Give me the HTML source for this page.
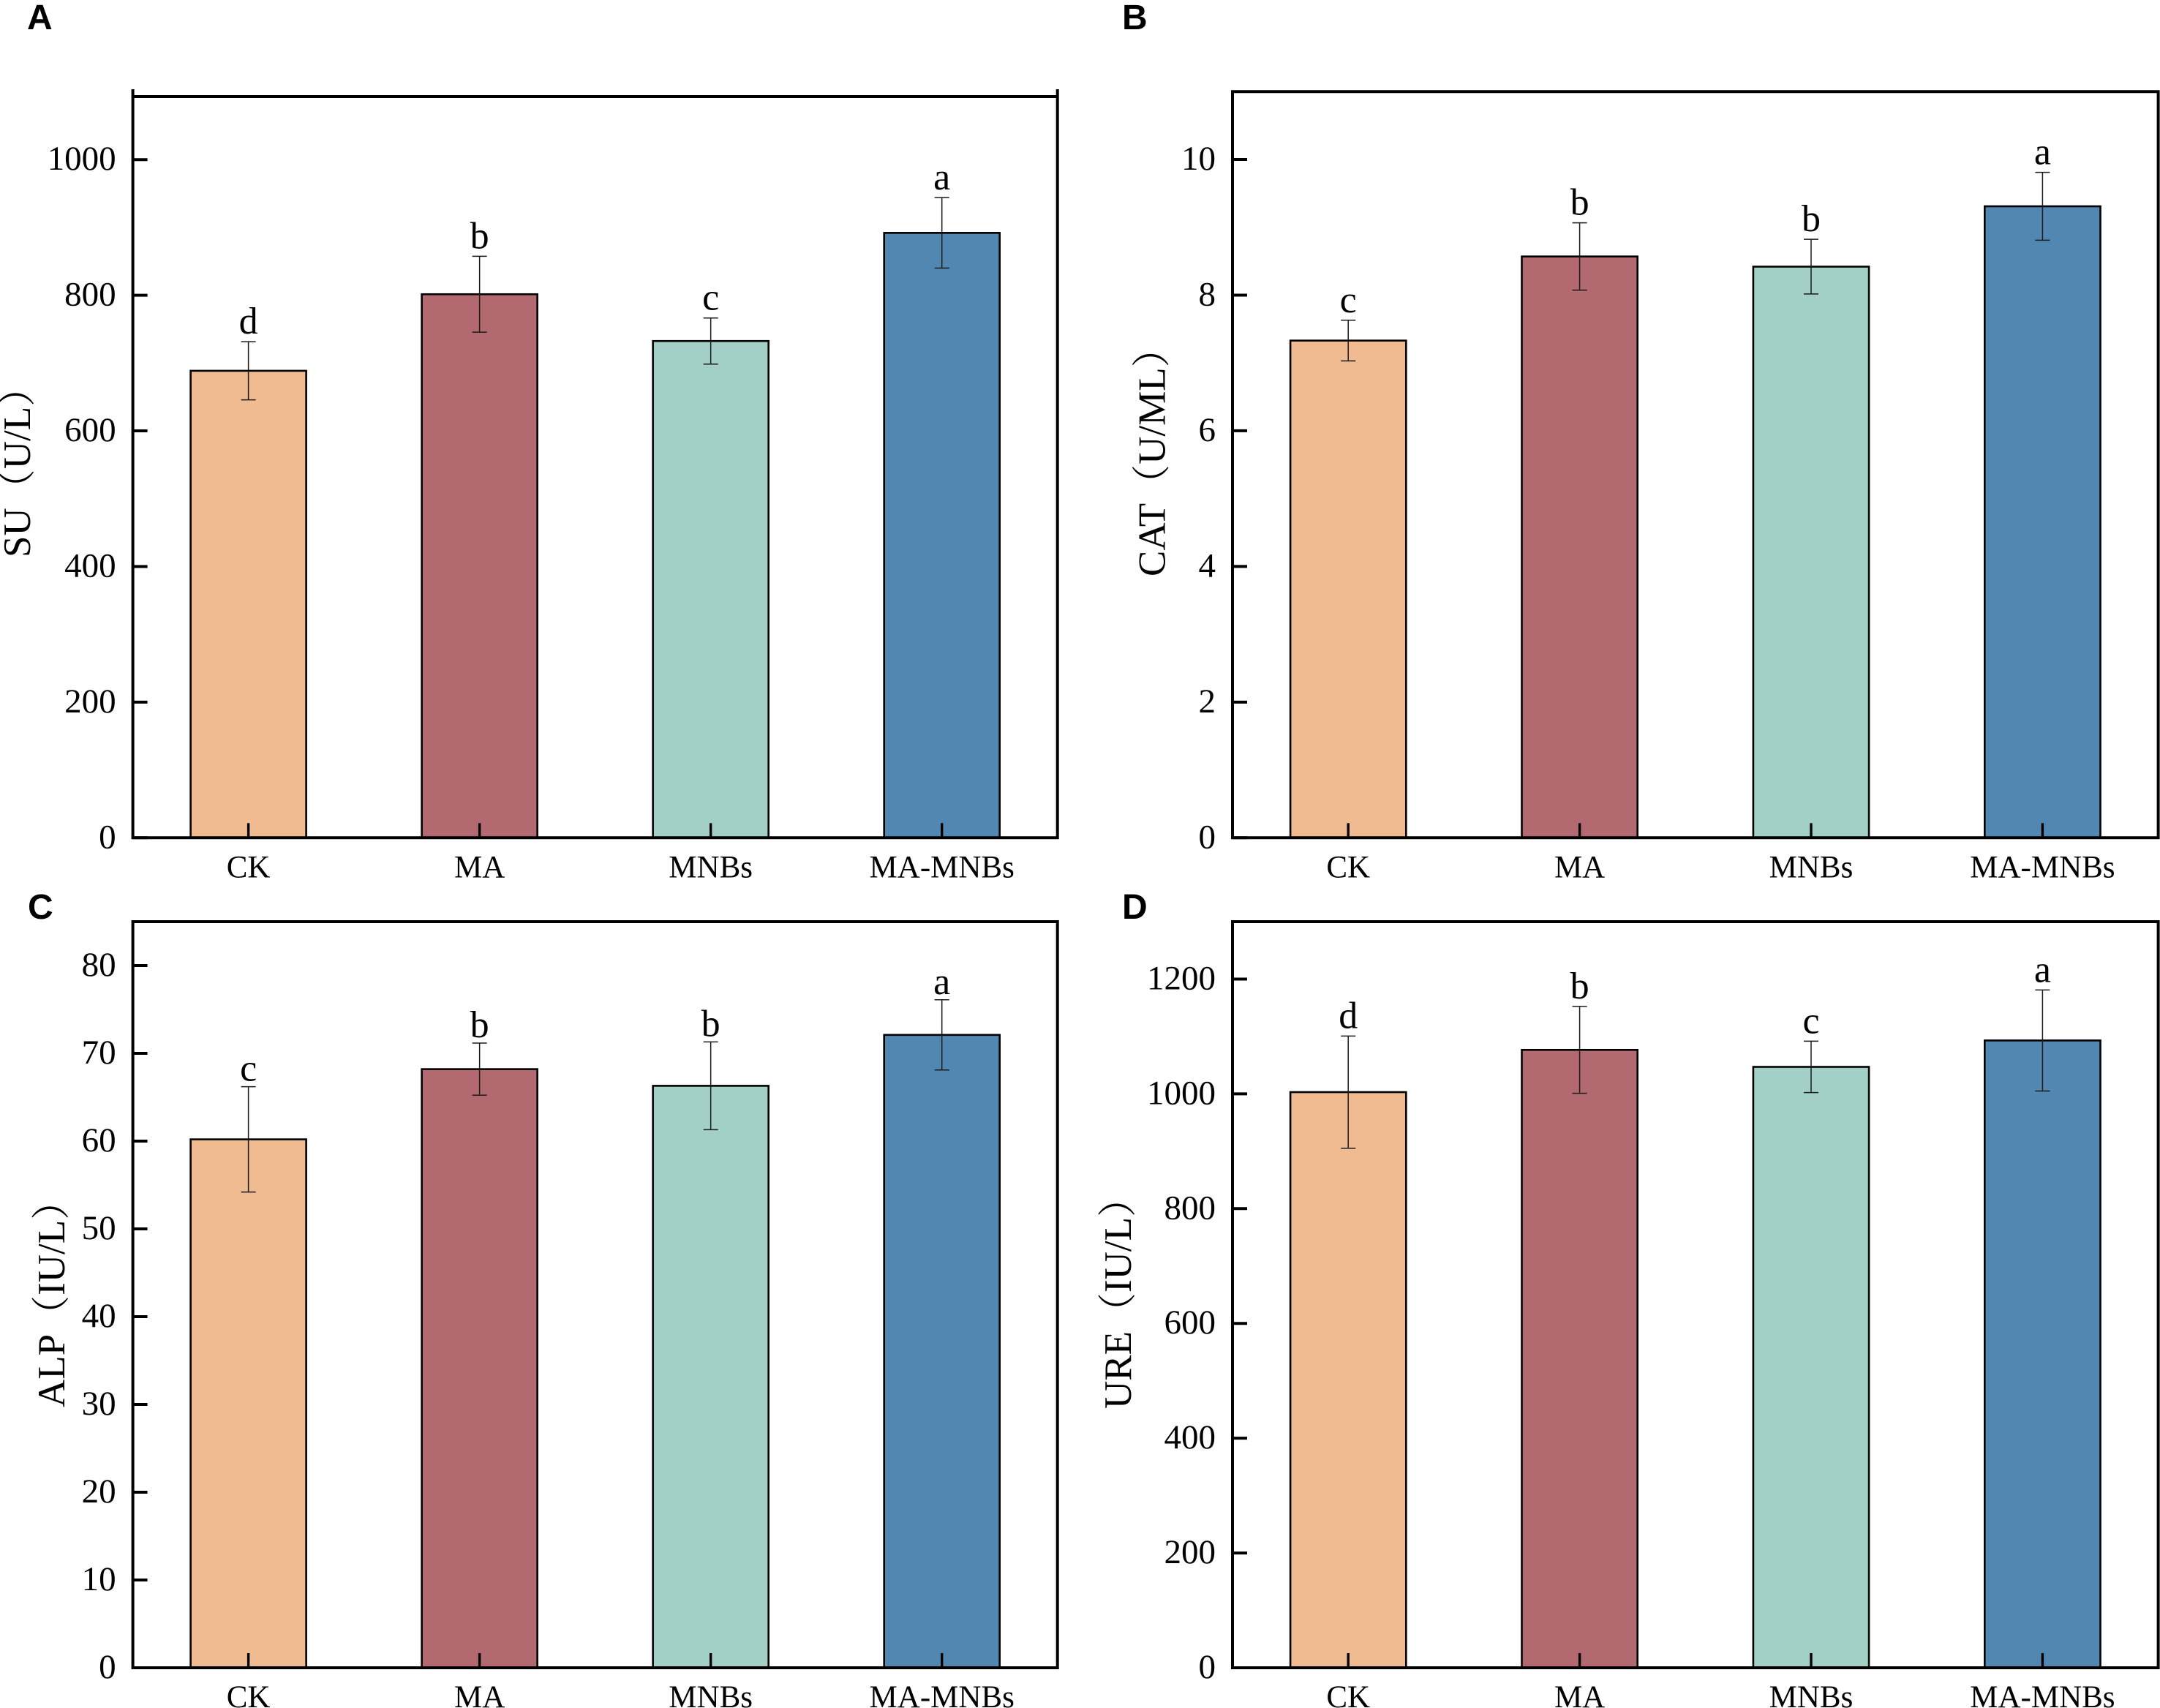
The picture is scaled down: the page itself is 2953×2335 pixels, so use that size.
<!DOCTYPE html>
<html>
<head>
<meta charset="utf-8">
<title>Enzyme activity bar charts</title>
<style>
html,body{margin:0;padding:0;background:#fff;}
svg{display:block;}
text{font-family:"Liberation Serif","Noto Serif CJK SC",serif;fill:#000;}
.panel-letter{font-family:"Liberation Sans",sans-serif;font-weight:bold;font-size:48px;}
</style>
</head>
<body>
<svg id="figure" xmlns="http://www.w3.org/2000/svg" width="2953" height="2335" viewBox="0 0 2953 2335">
  <text class="panel-letter" x="37" y="40">A</text>
  <text class="panel-letter" x="1534" y="40">B</text>
  <text class="panel-letter" x="38" y="1256">C</text>
  <text class="panel-letter" x="1534" y="1256">D</text>
</svg>
<script>
const categories = ['CK', 'MA', 'MNBs', 'MA-MNBs'];
const barColors = ['#F0BB90', '#B2696F', '#A2D0C7', '#5187B1'];

const suValues = [688.6, 801.5, 732.5, 892];
const suErrors = [42.9, 56, 34, 52];
const suLetters = ['d', 'b', 'c', 'a'];
const suTicks = [0, 200, 400, 600, 800, 1000];

const catValues = [7.33, 8.57, 8.42, 9.31];
const catErrors = [0.30, 0.496, 0.403, 0.50];
const catLetters = ['c', 'b', 'b', 'a'];
const catTicks = [0, 2, 4, 6, 8, 10];

const alpValues = [60.2, 68.2, 66.3, 72.1];
const alpErrors = [6, 2.97, 5, 4];
const alpLetters = ['c', 'b', 'b', 'a'];
const alpTicks = [0, 10, 20, 30, 40, 50, 60, 70, 80];

const ureValues = [1003, 1076.6, 1047, 1093];
const ureErrors = [97.7, 75.7, 44.8, 88];
const ureLetters = ['d', 'b', 'c', 'a'];
const ureTicks = [0, 200, 400, 600, 800, 1000, 1200];

const SVG_NS = 'http://www.w3.org/2000/svg';
const figure = document.getElementById('figure');

function make(tag, attrs, parent) {
  const el = document.createElementNS(SVG_NS, tag);
  for (const k in attrs) el.setAttribute(k, attrs[k]);
  parent.appendChild(el);
  return el;
}

function drawPanel(cfg) {
  const { left, right, top, zero, yMax, extend, titleX, titleY, letterGap } = cfg;
  const yScale = v => zero - (v / yMax) * (zero - top);
  const band = (right - left) / categories.length;
  const xScale = i => left + band * (i + 0.5);
  const barW = band * 0.5;

  const g = make('g', {}, figure);
  
  

  categories.forEach((cat, i) => {
    const yTop = yScale(cfg.values[i]);
    const bar = make('rect', {
      x: xScale(i) - barW / 2, y: yTop, width: barW, height: zero - yTop,
      fill: barColors[i], stroke: '#000', 'stroke-width': 2.6
    }, g);
    
    
  });

  categories.forEach((cat, i) => {
    const x = xScale(i);
    const hi = yScale(cfg.values[i] + cfg.errors[i]);
    const lo = yScale(cfg.values[i] - cfg.errors[i]);
    const eb = make('path', {
      d: 'M' + (x - 10) + ' ' + hi + 'H' + (x + 10) + 'M' + x + ' ' + hi + 'V' + lo + 'M' + (x - 10) + ' ' + lo + 'H' + (x + 10),
      fill: 'none', stroke: '#1a1a1a', 'stroke-width': 1.5
    }, g);
    
    

    const sig = make('text', { x: x, y: hi - letterGap, 'text-anchor': 'middle', 'font-size': 52 }, g);
    sig.textContent = cfg.letters[i];
    
    

    const tick = make('line', { x1: x, x2: x, y1: zero, y2: zero - 20, stroke: '#000', 'stroke-width': 3.4 }, g);
    
    

    const lab = make('text', { x: x, y: zero + 54, 'text-anchor': 'middle', 'font-size': 43 }, g);
    lab.textContent = cat;
    
    
  });

  cfg.ticks.forEach(t => {
    const y = yScale(t);
    const tick = make('line', { x1: left, x2: left + 20, y1: y, y2: y, stroke: '#000', 'stroke-width': 4 }, g);
    
    

    const lab = make('text', { x: left - 23, y: y + 14, 'text-anchor': 'end', 'font-size': 47 }, g);
    lab.textContent = String(t);
    
    
  });

  const frame = make('path', {
    d: 'M' + left + ' ' + (top - extend) + 'V' + zero + 'H' + right + 'V' + (top - extend) + 'M' + left + ' ' + top + 'H' + right,
    fill: 'none', stroke: '#000', 'stroke-width': 4, 'stroke-linecap': 'square'
  }, g);
  
  

  const title = make('text', {
    transform: 'translate(' + titleX + ' ' + titleY + ') rotate(-90)',
    x: 0, y: 0, 'font-size': 53
  }, g);
  title.textContent = cfg.title;
  
  
}

drawPanel({ name: 'su', title: 'SU（U/L）', values: suValues, errors: suErrors, letters: suLetters, ticks: suTicks,
  left: 181.6, right: 1445.7, top: 132, zero: 1145.3, yMax: 1093, extend: 8, titleX: 41, titleY: 762, letterGap: 11 });
drawPanel({ name: 'cat', title: 'CAT（U/ML）', values: catValues, errors: catErrors, letters: catLetters, ticks: catTicks,
  left: 1685, right: 2950.6, top: 125.3, zero: 1145.3, yMax: 11, extend: 0, titleX: 1592.7, titleY: 788, letterGap: 11 });
drawPanel({ name: 'alp', title: 'ALP（IU/L）', values: alpValues, errors: alpErrors, letters: alpLetters, ticks: alpTicks,
  left: 181.6, right: 1445.7, top: 1260, zero: 2280, yMax: 85, extend: 0, titleX: 88, titleY: 1924, letterGap: 8 });
drawPanel({ name: 'ure', title: 'URE（IU/L）', values: ureValues, errors: ureErrors, letters: ureLetters, ticks: ureTicks,
  left: 1685, right: 2950.6, top: 1260, zero: 2280, yMax: 1300, extend: 0, titleX: 1546, titleY: 1926, letterGap: 11 });
</script>
</body>
</html>
